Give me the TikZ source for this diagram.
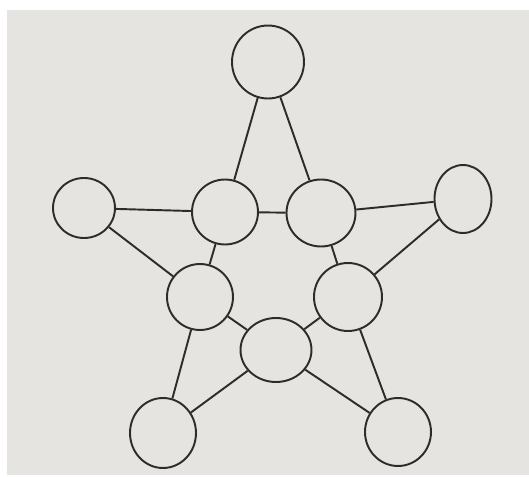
\documentclass[tikz,border=0pt]{standalone}
\usepackage{tikz}
\usetikzlibrary{shapes.geometric}
\definecolor{pagegray}{HTML}{E6E4E1}
\definecolor{inkgray}{HTML}{2E2C2B}

\begin{document}
\begin{tikzpicture}[x=0.02cm, y=-0.02cm,
    spot/.style={ellipse, draw=inkgray, line width=1.1pt, inner sep=0pt,
      minimum width=1.32cm, minimum height=1.32cm},
    link/.style={draw=inkgray, line width=1.1pt}]
  \useasboundingbox (0,0) rectangle (529,477);
  \fill[white] (0,0) rectangle (529,477);
  \fill[pagegray] (7,10) rectangle (529,475);
  % outer points
  \node[spot, minimum width=1.44cm, minimum height=1.46cm] (top) at (268,62) {};
  \node[spot, minimum width=1.24cm, minimum height=1.2cm] (left) at (84,208) {};
  \node[spot, minimum width=1.14cm, minimum height=1.36cm] (right) at (463,199) {};
  \node[spot, minimum height=1.4cm] (botL) at (163,433) {};
  \node[spot, minimum height=1.36cm] (botR) at (398,432) {};
  % inner pentagon
  \node[spot, minimum height=1.3cm] (inTL) at (225,212) {};
  \node[spot, minimum width=1.38cm, minimum height=1.34cm] (inTR) at (321,213) {};
  \node[spot] (inL) at (200,297) {};
  \node[spot, minimum width=1.36cm, minimum height=1.36cm] (inR) at (348,297) {};
  \node[spot, minimum width=1.42cm, minimum height=1.28cm] (inB) at (276,350) {};
  % edges
  \draw[link] (top) -- (inTL);
  \draw[link] (top) -- (inTR);
  \draw[link] (left) -- (inTL);
  \draw[link] (inTL) -- (inTR);
  \draw[link] (inTR) -- (right);
  \draw[link] (left) -- (inL);
  \draw[link] (inTL) -- (inL);
  \draw[link] (inTR) -- (inR);
  \draw[link] (right) -- (inR);
  \draw[link] (inL) -- (inB);
  \draw[link] (inB) -- (inR);
  \draw[link] (inL) -- (botL);
  \draw[link] (inB) -- (botL);
  \draw[link] (inB) -- (botR);
  \draw[link] (inR) -- (botR);
\end{tikzpicture}
\end{document}
